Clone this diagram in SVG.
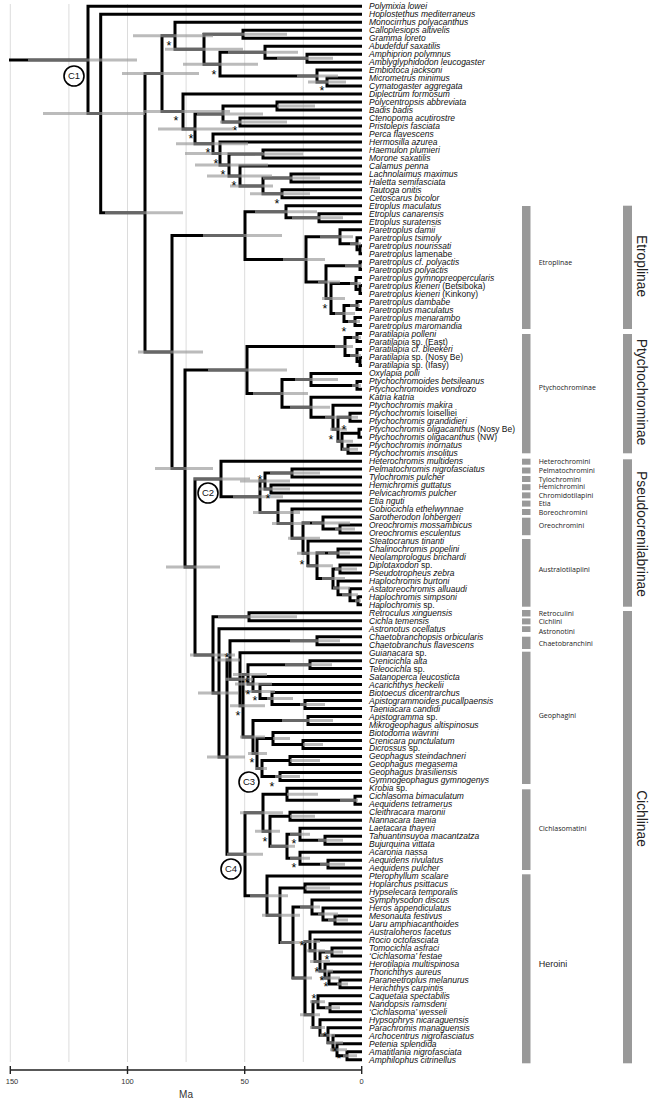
<svg xmlns="http://www.w3.org/2000/svg" width="652" height="1102" viewBox="0 0 652 1102">
<style>
.gr{stroke:#dcdcdc;stroke-width:1}
.br path{fill:none;stroke:#000;stroke-width:3;stroke-linejoin:miter}
.ci{fill:none;stroke:#999;stroke-opacity:.67;stroke-width:3}
.tx text{font-family:'Liberation Sans',Arial,sans-serif;font-style:italic;font-size:8.5px;fill:#111}
.u{font-style:normal}
.st text{font-family:'Liberation Sans',Arial,sans-serif;font-size:12.5px;text-anchor:middle;fill:#000}
.cl circle{fill:#fff;stroke:#000;stroke-width:1.6}
.cl text{font-family:'Liberation Sans',Arial,sans-serif;font-size:9.5px;text-anchor:middle;fill:#111}
.bar{fill:#999}
.lab{font-family:'Open Sans',sans-serif;font-size:7px;fill:#222}
.big{font-family:'Liberation Sans',Arial,sans-serif;font-size:13.8px;fill:#222;text-anchor:middle}
.ax{font-family:'Liberation Sans',Arial,sans-serif;font-size:7.5px;fill:#333;text-anchor:middle}
</style>
<rect width="652" height="1102" fill="#fff"/>
<g id="grid" class="gr">
<line x1="10.3" y1="4" x2="10.3" y2="1062"/><line x1="68.9" y1="4" x2="68.9" y2="1062"/><line x1="127.5" y1="4" x2="127.5" y2="1062"/><line x1="186.1" y1="4" x2="186.1" y2="1062"/><line x1="244.7" y1="4" x2="244.7" y2="1062"/><line x1="303.3" y1="4" x2="303.3" y2="1062"/>
</g>
<g id="connectors" class="br">
<path d="M9 59.9H88"/>
<path d="M362 6.3H88V113.6H100.7"/>
<path d="M362 14.3H100.7V212.8H145"/>
<path d="M162 73.6H145V352H172"/>
<path d="M175 35.8H162V111.5H183"/>
<path d="M362 22.3H175V49.2H204"/>
<path d="M243 34.2H204V64.2H220"/>
<path d="M362 30.2H243V38.2H362"/>
<path d="M265 52.2H220V76.1H317"/>
<path d="M362 46.2H265V58.2H307"/>
<path d="M362 54.2H307V62.2H362"/>
<path d="M362 70.1H317V82.1H327"/>
<path d="M362 78.1H327V86.1H362"/>
<path d="M362 94.1H183V128.9H195"/>
<path d="M223 114H195V143.7H213"/>
<path d="M277 106.1H223V122H240"/>
<path d="M362 102.1H277V110H362"/>
<path d="M362 118H240V126H362"/>
<path d="M362 134H213V153.5H220"/>
<path d="M362 142H220V164.9H229"/>
<path d="M263 153.9H229V175.9H240"/>
<path d="M362 149.9H263V157.9H362"/>
<path d="M362 165.9H240V185.9H263"/>
<path d="M291 177.9H263V193.8H282"/>
<path d="M362 173.9H291V181.9H362"/>
<path d="M362 189.8H282V197.8H362"/>
<path d="M245 235.6H172V468.4H185"/>
<path d="M286 211.8H245V259.4H306"/>
<path d="M362 205.8H286V217.8H319"/>
<path d="M362 213.8H319V221.8H362"/>
<path d="M340 236.7H306V282.1H326"/>
<path d="M362 229.7H340V243.7H357"/>
<path d="M362 237.7H357V249.7H360"/>
<path d="M362 245.7H360V253.7H362"/>
<path d="M360 265.7H326V298.6H331"/>
<path d="M362 261.7H360V269.6H362"/>
<path d="M356 283.6H331V313.5H344"/>
<path d="M362 277.6H356V289.6H360"/>
<path d="M362 285.6H360V293.6H362"/>
<path d="M357 305.6H344V321.5H355"/>
<path d="M362 301.6H357V309.5H362"/>
<path d="M362 317.5H355V325.5H362"/>
<path d="M247 369.9H185V566.9H195"/>
<path d="M345 346.5H247V393.4H282"/>
<path d="M357 337.5H345V355.4H357"/>
<path d="M362 333.5H357V341.5H362"/>
<path d="M362 349.4H357V361.4H360"/>
<path d="M362 357.4H360V365.4H362"/>
<path d="M311 379.4H282V407.3H311"/>
<path d="M362 373.4H311V385.4H357"/>
<path d="M362 381.4H357V389.3H362"/>
<path d="M362 397.3H311V417.3H333"/>
<path d="M362 405.3H333V429.3H338"/>
<path d="M350 417.3H338V441.2H342"/>
<path d="M362 413.3H350V421.3H362"/>
<path d="M359 433.2H342V449.2H348"/>
<path d="M362 429.2H359V437.2H362"/>
<path d="M362 445.2H348V453.2H362"/>
<path d="M221 479H195V654.9H213"/>
<path d="M362 461.2H221V496.7H260"/>
<path d="M265 481.1H260V512.4H278"/>
<path d="M292 473.1H265V489.1H271"/>
<path d="M362 469.1H292V477.1H362"/>
<path d="M362 485.1H271V493.1H362"/>
<path d="M362 501.1H278V523.6H292"/>
<path d="M362 509H292V538.2H303"/>
<path d="M323 523H303V553.3H308"/>
<path d="M362 517H323V529H340"/>
<path d="M362 525H340V533H362"/>
<path d="M362 541H308V565.7H317"/>
<path d="M338 552.9H317V578.4H333"/>
<path d="M362 548.9H338V556.9H362"/>
<path d="M340 568.9H333V587.9H338"/>
<path d="M362 564.9H340V572.9H362"/>
<path d="M362 580.9H338V594.8H350"/>
<path d="M362 588.8H350V600.8H358"/>
<path d="M362 596.8H358V604.8H362"/>
<path d="M249 616.8H213V692.9H219"/>
<path d="M362 612.8H249V620.8H362"/>
<path d="M362 628.7H219V757.1H227"/>
<path d="M230 660H227V854.3H245"/>
<path d="M317 640.7H230V679.2H240"/>
<path d="M362 636.7H317V644.7H362"/>
<path d="M362 652.7H240V705.7H243"/>
<path d="M248 674.4H243V737H253"/>
<path d="M310 664.7H248V684.1H253"/>
<path d="M362 660.7H310V668.6H362"/>
<path d="M362 676.6H253V691.6H260"/>
<path d="M362 684.6H260V698.6H272"/>
<path d="M362 692.6H272V704.6H305"/>
<path d="M362 700.6H305V708.5H362"/>
<path d="M308 720.5H253V753.5H257"/>
<path d="M362 716.5H308V724.5H362"/>
<path d="M273 738.5H257V768.4H262"/>
<path d="M362 732.5H273V744.5H303"/>
<path d="M362 740.5H303V748.4H362"/>
<path d="M290 760.4H262V776.4H280"/>
<path d="M362 756.4H290V764.4H362"/>
<path d="M362 772.4H280V780.4H362"/>
<path d="M263 812.8H245V895.7H267"/>
<path d="M287 794.3H263V831.3H270"/>
<path d="M362 788.3H287V800.3H355"/>
<path d="M362 796.3H355V804.3H362"/>
<path d="M290 816.3H270V846.2H287"/>
<path d="M362 812.3H290V820.3H362"/>
<path d="M300 834.2H287V858.2H300"/>
<path d="M362 828.2H300V840.2H325"/>
<path d="M362 836.2H325V844.2H362"/>
<path d="M362 852.2H300V864.2H328"/>
<path d="M362 860.2H328V868.1H362"/>
<path d="M362 876.1H267V915.3H280"/>
<path d="M305 888.1H280V942.5H293"/>
<path d="M362 884.1H305V892.1H362"/>
<path d="M312 907.1H293V978H305"/>
<path d="M362 900.1H312V914H323"/>
<path d="M362 908H323V920H335"/>
<path d="M362 916H335V924H362"/>
<path d="M310 941.4H305V1014.7H313"/>
<path d="M362 932H310V950.7H315"/>
<path d="M362 940H315V961.4H320"/>
<path d="M332 951.9H320V970.9H325"/>
<path d="M362 947.9H332V955.9H362"/>
<path d="M362 963.9H325V977.9H329"/>
<path d="M362 971.9H329V983.9H340"/>
<path d="M362 979.9H340V987.8H362"/>
<path d="M318 1001.8H313V1027.5H320"/>
<path d="M362 995.8H318V1007.8H330"/>
<path d="M362 1003.8H330V1011.8H362"/>
<path d="M362 1019.8H320V1035.2H328"/>
<path d="M362 1027.7H328V1042.7H333"/>
<path d="M362 1035.7H333V1049.7H337"/>
<path d="M362 1043.7H337V1055.7H347"/>
<path d="M362 1051.7H347V1059.7H362"/>
</g>
<path id="age-intervals" class="ci" d="M28 59.9H137M43 113.6H145M105 212.8H183M122 73.6H199M133 35.8H213M165 49.2H243M203 34.2H287M183 64.2H258M228 52.2H298M277 58.2H333M297 76.1H338M308 82.1H346M143 111.5H230M158 128.9H233M197 114H263M277 106.1H315M220 122H287M176 143.7H248M185 153.5H263M195 164.9H268M255 153.9H303M207 175.9H272M230 185.9H273M263 177.9H320M250 193.8H310M138 352H203M203 235.6H282M255 211.8H317M292 217.8H343M283 259.4H325M320 236.7H353M350 243.7H361M345 265.7H362M318 282.1H340M322 298.6H345M350 283.6H361M335 313.5H355M350 305.6H360M348 321.5H360M155 468.4H213M208 369.9H287M335 346.5H353M352 337.5H361M350 355.4H361M253 393.4H308M295 379.4H338M352 385.4H361M290 407.3H330M325 417.3H358M330 429.3H347M337 441.2H353M342 449.2H358M166 566.9H220M193 479H250M233 496.7H283M240 481.1H290M270 473.1H320M258 489.1H290M253 512.4H300M272 523.6H310M312 523H350M335 529H355M288 538.2H320M297 553.3H325M307 565.7H333M328 552.9H350M322 578.4H345M335 568.9H357M333 587.9H350M342 594.8H358M355 600.8H361M190 654.9H235M218 616.8H297M198 692.9H238M207 757.1H245M215 660H240M290 640.7H340M225 679.2H253M230 705.7H265M233 674.4H267M285 664.7H332M235 684.1H272M245 691.6H275M267 698.6H293M300 704.6H325M240 737H265M282 720.5H333M248 753.5H267M273 738.5H290M303 744.5H323M255 768.4H267M290 760.4H320M275 776.4H300M227 854.3H263M240 812.8H283M287 794.3H318M340 800.3H358M255 831.3H280M290 816.3H315M270 846.2H295M290 834.2H310M318 840.2H343M290 858.2H310M320 864.2H345M250 895.7H288M262 915.3H300M305 888.1H330M280 942.5H305M300 907.1H320M318 914H338M328 920H348M292 978H312M303 941.4H320M307 950.7H325M310 961.4H330M325 951.9H343M315 970.9H333M320 977.9H340M337 983.9H348M300 1014.7H320M310 1001.8H325M325 1007.8H340M310 1027.5H325M320 1035.2H335M327 1042.7H343M330 1049.7H347M343 1055.7H357"/>
<g id="support" class="st" opacity="0.99">
<text x="169" y="49.5">*</text><text x="214" y="78.5">*</text><text x="322" y="94.5">*</text><text x="176" y="124.5">*</text><text x="235" y="134.5">*</text><text x="191" y="142.5">*</text><text x="208" y="156.5">*</text><text x="216" y="167.5">*</text><text x="223" y="178.5">*</text><text x="234" y="189.5">*</text><text x="277" y="207.5">*</text><text x="325" y="312.5">*</text><text x="344" y="335.5">*</text><text x="344" y="433.5">*</text><text x="331" y="443.5">*</text><text x="260" y="483.5">*</text><text x="268" y="502.5">*</text><text x="302" y="568.5">*</text><text x="227" y="661.5">*</text><text x="247" y="686.5">*</text><text x="248" y="698.5">*</text><text x="255" y="704.5">*</text><text x="238" y="719.5">*</text><text x="252" y="766.5">*</text><text x="272" y="790.5">*</text><text x="265" y="845.5">*</text><text x="294" y="847.5">*</text><text x="294" y="871.5">*</text><text x="302" y="949.5">*</text><text x="327" y="963.5">*</text><text x="317" y="975.5">*</text><text x="322" y="984.5">*</text><text x="326" y="990.5">*</text><text x="314" y="1002.5">*</text><text x="325" y="1040.5">*</text><text x="335" y="1055.5">*</text><text x="339" y="1062.5">*</text>
</g>
<g id="calibrations" class="cl">
<g id="C1"><circle cx="74" cy="76" r="10"/><text x="74" y="79.4">C1</text></g>
<g id="C2"><circle cx="208" cy="493" r="10"/><text x="208" y="496.4">C2</text></g>
<g id="C3"><circle cx="249" cy="782" r="10"/><text x="249" y="785.4">C3</text></g>
<g id="C4"><circle cx="231" cy="869" r="10"/><text x="231" y="872.4">C4</text></g>
</g>
<g id="taxa" class="tx">
<g id="t0"><text x="369" y="9.3">Polymixia lowei</text></g>
<g id="t1"><text x="369" y="17.3">Hoplostethus mediterraneus</text></g>
<g id="t2"><text x="369" y="25.3">Monocirrhus polyacanthus</text></g>
<g id="t3"><text x="369" y="33.2">Calloplesiops altivelis</text></g>
<g id="t4"><text x="369" y="41.2">Gramma loreto</text></g>
<g id="t5"><text x="369" y="49.2">Abudefduf saxatilis</text></g>
<g id="t6"><text x="369" y="57.2">Amphiprion polymnus</text></g>
<g id="t7"><text x="369" y="65.2">Amblyglyphidodon leucogaster</text></g>
<g id="t8"><text x="369" y="73.1">Embiotoca jacksoni</text></g>
<g id="t9"><text x="369" y="81.1">Micrometrus minimus</text></g>
<g id="t10"><text x="369" y="89.1">Cymatogaster aggregata</text></g>
<g id="t11"><text x="369" y="97.1">Diplectrum formosum</text></g>
<g id="t12"><text x="369" y="105.1">Polycentropsis abbreviata</text></g>
<g id="t13"><text x="369" y="113">Badis badis</text></g>
<g id="t14"><text x="369" y="121">Ctenopoma acutirostre</text></g>
<g id="t15"><text x="369" y="129">Pristolepis fasciata</text></g>
<g id="t16"><text x="369" y="137">Perca flavescens</text></g>
<g id="t17"><text x="369" y="145">Hermosilla azurea</text></g>
<g id="t18"><text x="369" y="152.9">Haemulon plumieri</text></g>
<g id="t19"><text x="369" y="160.9">Morone saxatilis</text></g>
<g id="t20"><text x="369" y="168.9">Calamus penna</text></g>
<g id="t21"><text x="369" y="176.9">Lachnolaimus maximus</text></g>
<g id="t22"><text x="369" y="184.9">Haletta semifasciata</text></g>
<g id="t23"><text x="369" y="192.8">Tautoga onitis</text></g>
<g id="t24"><text x="369" y="200.8">Cetoscarus bicolor</text></g>
<g id="t25"><text x="369" y="208.8">Etroplus maculatus</text></g>
<g id="t26"><text x="369" y="216.8">Etroplus canarensis</text></g>
<g id="t27"><text x="369" y="224.8">Etroplus suratensis</text></g>
<g id="t28"><text x="369" y="232.7">Paretroplus damii</text></g>
<g id="t29"><text x="369" y="240.7">Paretroplus tsimoly</text></g>
<g id="t30"><text x="369" y="248.7">Paretroplus nourissati</text></g>
<g id="t31"><text x="369" y="256.7">Paretroplus <tspan class="u">lamenabe</tspan></text></g>
<g id="t32"><text x="369" y="264.7">Paretroplus cf. polyactis</text></g>
<g id="t33"><text x="369" y="272.6">Paretroplus polyactis</text></g>
<g id="t34"><text x="369" y="280.6">Paretroplus gymnopreopercularis</text></g>
<g id="t35"><text x="369" y="288.6">Paretroplus kieneri <tspan class="u">(Betsiboka)</tspan></text></g>
<g id="t36"><text x="369" y="296.6">Paretroplus kieneri <tspan class="u">(Kinkony)</tspan></text></g>
<g id="t37"><text x="369" y="304.6">Paretroplus dambabe</text></g>
<g id="t38"><text x="369" y="312.5">Paretroplus maculatus</text></g>
<g id="t39"><text x="369" y="320.5">Paretroplus menarambo</text></g>
<g id="t40"><text x="369" y="328.5">Paretroplus maromandia</text></g>
<g id="t41"><text x="369" y="336.5">Paratilapia polleni</text></g>
<g id="t42"><text x="369" y="344.5">Paratilapia <tspan class="u">sp. (East)</tspan></text></g>
<g id="t43"><text x="369" y="352.4">Paratilapia cf. bleekeri</text></g>
<g id="t44"><text x="369" y="360.4">Paratilapia <tspan class="u">sp. (Nosy Be)</tspan></text></g>
<g id="t45"><text x="369" y="368.4">Paratilapia <tspan class="u">sp. (Ifasy)</tspan></text></g>
<g id="t46"><text x="369" y="376.4">Oxylapia polli</text></g>
<g id="t47"><text x="369" y="384.4">Ptychochromoides betsileanus</text></g>
<g id="t48"><text x="369" y="392.3">Ptychochromoides vondrozo</text></g>
<g id="t49"><text x="369" y="400.3">Katria katria</text></g>
<g id="t50"><text x="369" y="408.3">Ptychochromis makira</text></g>
<g id="t51"><text x="369" y="416.3">Ptychochromis <tspan class="u">loiselliei</tspan></text></g>
<g id="t52"><text x="369" y="424.3">Ptychochromis grandidieri</text></g>
<g id="t53"><text x="369" y="432.2">Ptychochromis oligacanthus <tspan class="u">(Nosy Be)</tspan></text></g>
<g id="t54"><text x="369" y="440.2">Ptychochromis oligacanthus <tspan class="u">(NW)</tspan></text></g>
<g id="t55"><text x="369" y="448.2">Ptychochromis inornatus</text></g>
<g id="t56"><text x="369" y="456.2">Ptychochromis insolitus</text></g>
<g id="t57"><text x="369" y="464.2">Heterochromis multidens</text></g>
<g id="t58"><text x="369" y="472.1">Pelmatochromis nigrofasciatus</text></g>
<g id="t59"><text x="369" y="480.1">Tylochromis pulcher</text></g>
<g id="t60"><text x="369" y="488.1">Hemichromis guttatus</text></g>
<g id="t61"><text x="369" y="496.1">Pelvicachromis pulcher</text></g>
<g id="t62"><text x="369" y="504.1">Etia nguti</text></g>
<g id="t63"><text x="369" y="512">Gobiocichla ethelwynnae</text></g>
<g id="t64"><text x="369" y="520">Sarotherodon lohbergeri</text></g>
<g id="t65"><text x="369" y="528">Oreochromis mossambicus</text></g>
<g id="t66"><text x="369" y="536">Oreochromis esculentus</text></g>
<g id="t67"><text x="369" y="544">Steatocranus tinanti</text></g>
<g id="t68"><text x="369" y="551.9">Chalinochromis popelini</text></g>
<g id="t69"><text x="369" y="559.9">Neolamprologus brichardi</text></g>
<g id="t70"><text x="369" y="567.9">Diplotaxodon <tspan class="u">sp.</tspan></text></g>
<g id="t71"><text x="369" y="575.9">Pseudotropheus zebra</text></g>
<g id="t72"><text x="369" y="583.9">Haplochromis burtoni</text></g>
<g id="t73"><text x="369" y="591.8">Astatoreochromis alluaudi</text></g>
<g id="t74"><text x="369" y="599.8">Haplochromis simpsoni</text></g>
<g id="t75"><text x="369" y="607.8">Haplochromis <tspan class="u">sp.</tspan></text></g>
<g id="t76"><text x="369" y="615.8">Retroculus xinguensis</text></g>
<g id="t77"><text x="369" y="623.8">Cichla temensis</text></g>
<g id="t78"><text x="369" y="631.7">Astronotus ocellatus</text></g>
<g id="t79"><text x="369" y="639.7">Chaetobranchopsis orbicularis</text></g>
<g id="t80"><text x="369" y="647.7">Chaetobranchus flavescens</text></g>
<g id="t81"><text x="369" y="655.7">Guianacara <tspan class="u">sp.</tspan></text></g>
<g id="t82"><text x="369" y="663.7">Crenicichla alta</text></g>
<g id="t83"><text x="369" y="671.6">Teleocichla <tspan class="u">sp.</tspan></text></g>
<g id="t84"><text x="369" y="679.6">Satanoperca leucosticta</text></g>
<g id="t85"><text x="369" y="687.6">Acarichthys heckelii</text></g>
<g id="t86"><text x="369" y="695.6">Biotoecus dicentrarchus</text></g>
<g id="t87"><text x="369" y="703.6">Apistogrammoides pucallpaensis</text></g>
<g id="t88"><text x="369" y="711.5">Taeniacara candidi</text></g>
<g id="t89"><text x="369" y="719.5">Apistogramma <tspan class="u">sp.</tspan></text></g>
<g id="t90"><text x="369" y="727.5">Mikrogeophagus altispinosus</text></g>
<g id="t91"><text x="369" y="735.5">Biotodoma wavrini</text></g>
<g id="t92"><text x="369" y="743.5">Crenicara punctulatum</text></g>
<g id="t93"><text x="369" y="751.4">Dicrossus <tspan class="u">sp.</tspan></text></g>
<g id="t94"><text x="369" y="759.4">Geophagus steindachneri</text></g>
<g id="t95"><text x="369" y="767.4">Geophagus megasema</text></g>
<g id="t96"><text x="369" y="775.4">Geophagus brasiliensis</text></g>
<g id="t97"><text x="369" y="783.4">Gymnogeophagus gymnogenys</text></g>
<g id="t98"><text x="369" y="791.3">Krobia <tspan class="u">sp.</tspan></text></g>
<g id="t99"><text x="369" y="799.3">Cichlasoma bimaculatum</text></g>
<g id="t100"><text x="369" y="807.3">Aequidens tetramerus</text></g>
<g id="t101"><text x="369" y="815.3">Cleithracara maronii</text></g>
<g id="t102"><text x="369" y="823.3">Nannacara taenia</text></g>
<g id="t103"><text x="369" y="831.2">Laetacara thayeri</text></g>
<g id="t104"><text x="369" y="839.2">Tahuantinsuyoa macantzatza</text></g>
<g id="t105"><text x="369" y="847.2">Bujurquina vittata</text></g>
<g id="t106"><text x="369" y="855.2">Acaronia nassa</text></g>
<g id="t107"><text x="369" y="863.2">Aequidens rivulatus</text></g>
<g id="t108"><text x="369" y="871.1">Aequidens pulcher</text></g>
<g id="t109"><text x="369" y="879.1">Pterophyllum scalare</text></g>
<g id="t110"><text x="369" y="887.1">Hoplarchus psittacus</text></g>
<g id="t111"><text x="369" y="895.1">Hypselecara temporalis</text></g>
<g id="t112"><text x="369" y="903.1">Symphysodon discus</text></g>
<g id="t113"><text x="369" y="911">Heros appendiculatus</text></g>
<g id="t114"><text x="369" y="919">Mesonauta festivus</text></g>
<g id="t115"><text x="369" y="927">Uaru amphiacanthoides</text></g>
<g id="t116"><text x="369" y="935">Australoheros facetus</text></g>
<g id="t117"><text x="369" y="943">Rocio octofasciata</text></g>
<g id="t118"><text x="369" y="950.9">Tomocichla asfraci</text></g>
<g id="t119"><text x="369" y="958.9">‘Cichlasoma’ festae</text></g>
<g id="t120"><text x="369" y="966.9">Herotilapia multispinosa</text></g>
<g id="t121"><text x="369" y="974.9">Thorichthys aureus</text></g>
<g id="t122"><text x="369" y="982.9">Paraneetroplus melanurus</text></g>
<g id="t123"><text x="369" y="990.8">Herichthys carpintis</text></g>
<g id="t124"><text x="369" y="998.8">Caquetaia spectabilis</text></g>
<g id="t125"><text x="369" y="1006.8">Nandopsis ramsdeni</text></g>
<g id="t126"><text x="369" y="1014.8">‘Cichlasoma’ wesseli</text></g>
<g id="t127"><text x="369" y="1022.8">Hypsophrys nicaraguensis</text></g>
<g id="t128"><text x="369" y="1030.7">Parachromis managuensis</text></g>
<g id="t129"><text x="369" y="1038.7">Archocentrus nigrofasciatus</text></g>
<g id="t130"><text x="369" y="1046.7">Petenia splendida</text></g>
<g id="t131"><text x="369" y="1054.7">Amatitlania nigrofasciata</text></g>
<g id="t132"><text x="369" y="1062.7">Amphilophus citrinellus</text></g>
</g>
<g id="tribes">
<g id="b-etroplinae"><rect class="bar" x="522" y="206" width="8.5" height="123"/><text class="lab" x="538.7" y="265">Etroplinae</text></g>
<g id="b-ptychochrominae"><rect class="bar" x="522" y="334" width="8.5" height="119.3"/><text class="lab" x="538.7" y="390">Ptychochrominae</text></g>
<g id="b-heterochromini"><rect class="bar" x="522" y="458.7" width="8.5" height="6"/><text class="lab" x="538.7" y="464.2">Heterochromini</text></g>
<g id="b-pelmatochromini"><rect class="bar" x="522" y="467.5" width="8.5" height="6"/><text class="lab" x="538.7" y="473">Pelmatochromini</text></g>
<g id="b-tylochromini"><rect class="bar" x="522" y="476" width="8.5" height="6"/><text class="lab" x="538.7" y="481.6">Tylochromini</text></g>
<g id="b-hemichromini"><rect class="bar" x="522" y="484.2" width="8.5" height="6"/><text class="lab" x="538.7" y="489.2">Hemichromini</text></g>
<g id="b-chromidotilapini"><rect class="bar" x="522" y="492.4" width="8.5" height="6"/><text class="lab" x="538.7" y="498.2">Chromidotilapini</text></g>
<g id="b-etia"><rect class="bar" x="522" y="500.6" width="8.5" height="6"/><text class="lab" x="538.7" y="506.2">Etia</text></g>
<g id="b-boreochromini"><rect class="bar" x="522" y="509" width="8.5" height="6"/><text class="lab" x="538.7" y="514.5">Boreochromini</text></g>
<g id="b-oreochromini"><rect class="bar" x="522" y="517.7" width="8.5" height="17.5"/><text class="lab" x="538.7" y="528.2">Oreochromini</text></g>
<g id="b-australotilapiini"><rect class="bar" x="522" y="539" width="8.5" height="67.7"/><text class="lab" x="538.7" y="571.5">Australotilapiini</text></g>
<g id="b-retroculini"><rect class="bar" x="522" y="610" width="8.5" height="6.5"/><text class="lab" x="538.7" y="615.8">Retroculini</text></g>
<g id="b-cichlini"><rect class="bar" x="522" y="618.4" width="8.5" height="6"/><text class="lab" x="538.7" y="624.2">Cichlini</text></g>
<g id="b-astronotini"><rect class="bar" x="522" y="626.2" width="8.5" height="5.8"/><text class="lab" x="538.7" y="633.5">Astronotini</text></g>
<g id="b-chaetobranchini"><rect class="bar" x="522" y="636.7" width="8.5" height="12.3"/><text class="lab" x="538.7" y="646.2">Chaetobranchini</text></g>
<g id="b-geophagini"><rect class="bar" x="522" y="651.7" width="8.5" height="132.3"/><text class="lab" x="538.7" y="717.5">Geophagini</text></g>
<g id="b-cichlasomatini"><rect class="bar" x="522" y="789.3" width="8.5" height="80.7"/><text class="lab" x="538.7" y="831.2">Cichlasomatini</text></g>
<g id="b-heroini"><rect class="bar" x="522" y="874.3" width="8.5" height="189"/><text x="538.7" y="967.2" font-family="Liberation Sans, Arial, sans-serif" font-size="9px" fill="#222">Heroini</text></g>
</g>
<g id="subfamilies">
<g id="s-etroplinae"><rect class="bar" x="623" y="205.7" width="9" height="123.3"/><text class="big" transform="translate(636.5,266) rotate(90)">Etroplinae</text></g>
<g id="s-ptychochrominae"><rect class="bar" x="623" y="334" width="9" height="119.3"/><text class="big" transform="translate(636.5,392) rotate(90)">Ptychochrominae</text></g>
<g id="s-pseudocrenilabrinae"><rect class="bar" x="623" y="459.3" width="9" height="147.4"/><text class="big" transform="translate(636.5,534) rotate(90)">Pseudocrenilabrinae</text></g>
<g id="s-cichlinae"><rect class="bar" x="623" y="611" width="9" height="452.3"/><text class="big" transform="translate(636.5,818.5) rotate(90)">Cichlinae</text></g>
</g>
<g id="axis">
<path d="M10.3 1070H361.7M10.3 1066V1074M127.5 1066V1074M244.7 1066V1074M361.7 1066V1074" fill="none" stroke="#222" stroke-width="1.4"/>
<text class="ax" x="12" y="1083.5">150</text>
<text class="ax" x="127.5" y="1083.5">100</text>
<text class="ax" x="244.7" y="1083.5">50</text>
<text class="ax" x="361.7" y="1083.5">0</text>
<text x="186" y="1097.5" font-family="Liberation Sans, Arial, sans-serif" font-size="10px" fill="#333" text-anchor="middle">Ma</text>
</g>
</svg>
